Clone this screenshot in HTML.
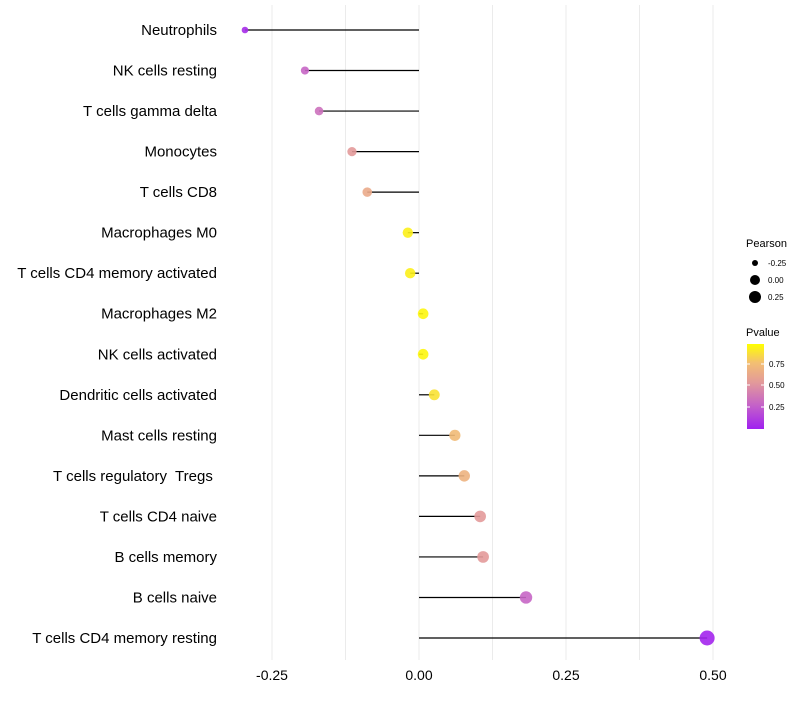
<!DOCTYPE html>
<html><head><meta charset="utf-8"><style>
body{margin:0;background:#fff;font-family:"Liberation Sans",sans-serif;}
text{white-space:pre;}
</style></head><body>
<svg id="c" width="800" height="700" xmlns="http://www.w3.org/2000/svg">
<defs><linearGradient id="pg" x1="0" y1="1" x2="0" y2="0">
<stop offset="0" stop-color="#a020f0"/><stop offset="0.28" stop-color="#c462c8"/><stop offset="0.55" stop-color="#e39a9a"/><stop offset="0.78" stop-color="#f3bf72"/><stop offset="1" stop-color="#ffff00"/>
</linearGradient></defs>
<g id="grid"></g><g id="marks"></g><g id="labels"></g>
<g font-size="10">
<text x="746" y="247" font-size="11">Pearson</text>
<circle cx="755" cy="263" r="3" fill="#000"/><text x="768" y="266" font-size="8">-0.25</text>
<circle cx="755" cy="280" r="5" fill="#000"/><text x="768" y="283" font-size="8">0.00</text>
<circle cx="755" cy="297" r="6" fill="#000"/><text x="768" y="300" font-size="8">0.25</text>
<text x="746" y="336" font-size="11">Pvalue</text>
<rect x="747" y="344" width="17" height="85" fill="url(#pg)"/>
<line x1="747" y1="364" x2="750" y2="364" stroke="#fff"/><line x1="761" y1="364" x2="764" y2="364" stroke="#fff"/>
<line x1="747" y1="385" x2="750" y2="385" stroke="#fff"/><line x1="761" y1="385" x2="764" y2="385" stroke="#fff"/>
<line x1="747" y1="407" x2="750" y2="407" stroke="#fff"/><line x1="761" y1="407" x2="764" y2="407" stroke="#fff"/>
<text x="769" y="367" font-size="8">0.75</text><text x="769" y="388" font-size="8">0.50</text><text x="769" y="410" font-size="8">0.25</text>
</g>
</svg>
<script>
const categories=["Neutrophils","NK cells resting","T cells gamma delta","Monocytes","T cells CD8","Macrophages M0","T cells CD4 memory activated","Macrophages M2","NK cells activated","Dendritic cells activated","Mast cells resting","T cells regulatory  Tregs ","T cells CD4 naive","B cells memory","B cells naive","T cells CD4 memory resting"];
const pearson=[-0.296,-0.194,-0.170,-0.114,-0.088,-0.019,-0.015,0.007,0.007,0.026,0.061,0.077,0.104,0.109,0.182,0.490];
const pvalue=[0.05,0.30,0.35,0.55,0.65,0.95,0.95,0.97,0.97,0.90,0.75,0.70,0.55,0.55,0.30,0.02];
const xTicks=[-0.25,0,0.25,0.5];
const xTickLabels=["-0.25","0.00","0.25","0.50"];
const NS="http://www.w3.org/2000/svg";
const X=v=>419+v*588;
const Y=i=>30+i*(608/15);
const R=v=>Math.sqrt(Math.max(4,28+58*v));
const stops=[[0,[160,32,240]],[0.28,[196,98,200]],[0.55,[227,154,154]],[0.78,[243,191,114]],[1,[255,255,0]]];
function col(p){for(let i=1;i<stops.length;i++){if(p<=stops[i][0]){const a=stops[i-1],b=stops[i],t=(p-a[0])/(b[0]-a[0]);return "rgb("+a[1].map((c,k)=>Math.round(c+(b[1][k]-c)*t)).join(",")+")";}}return "rgb(255,255,0)";}
function mk(t,attrs,parent){const e=document.createElementNS(NS,t);for(const k in attrs)e.setAttribute(k,attrs[k]);document.getElementById(parent).appendChild(e);return e;}
const minor=[-0.125,0.125,0.375];
minor.concat(xTicks).forEach(v=>{const l=mk("line",{x1:X(v),x2:X(v),y1:5,y2:660,stroke:"#ebebeb","stroke-width":1},"grid");

});
xTicks.forEach((v,i)=>{const t=mk("text",{x:X(v),y:680,"text-anchor":"middle","font-size":14,fill:"#000"},"labels");t.textContent=xTickLabels[i];

});
categories.forEach((c,i)=>{
const t=mk("text",{x:217,y:Y(i)+5,"text-anchor":"end","font-size":15,fill:"#000"},"labels");t.textContent=c;


const l=mk("line",{x1:X(0),x2:X(pearson[i]),y1:Y(i),y2:Y(i),stroke:"#000","stroke-width":1.2},"marks");


const d=mk("circle",{cx:X(pearson[i]),cy:Y(i),r:R(pearson[i]),fill:col(pvalue[i]),opacity:0.9},"marks");


});
</script>
</body></html>
